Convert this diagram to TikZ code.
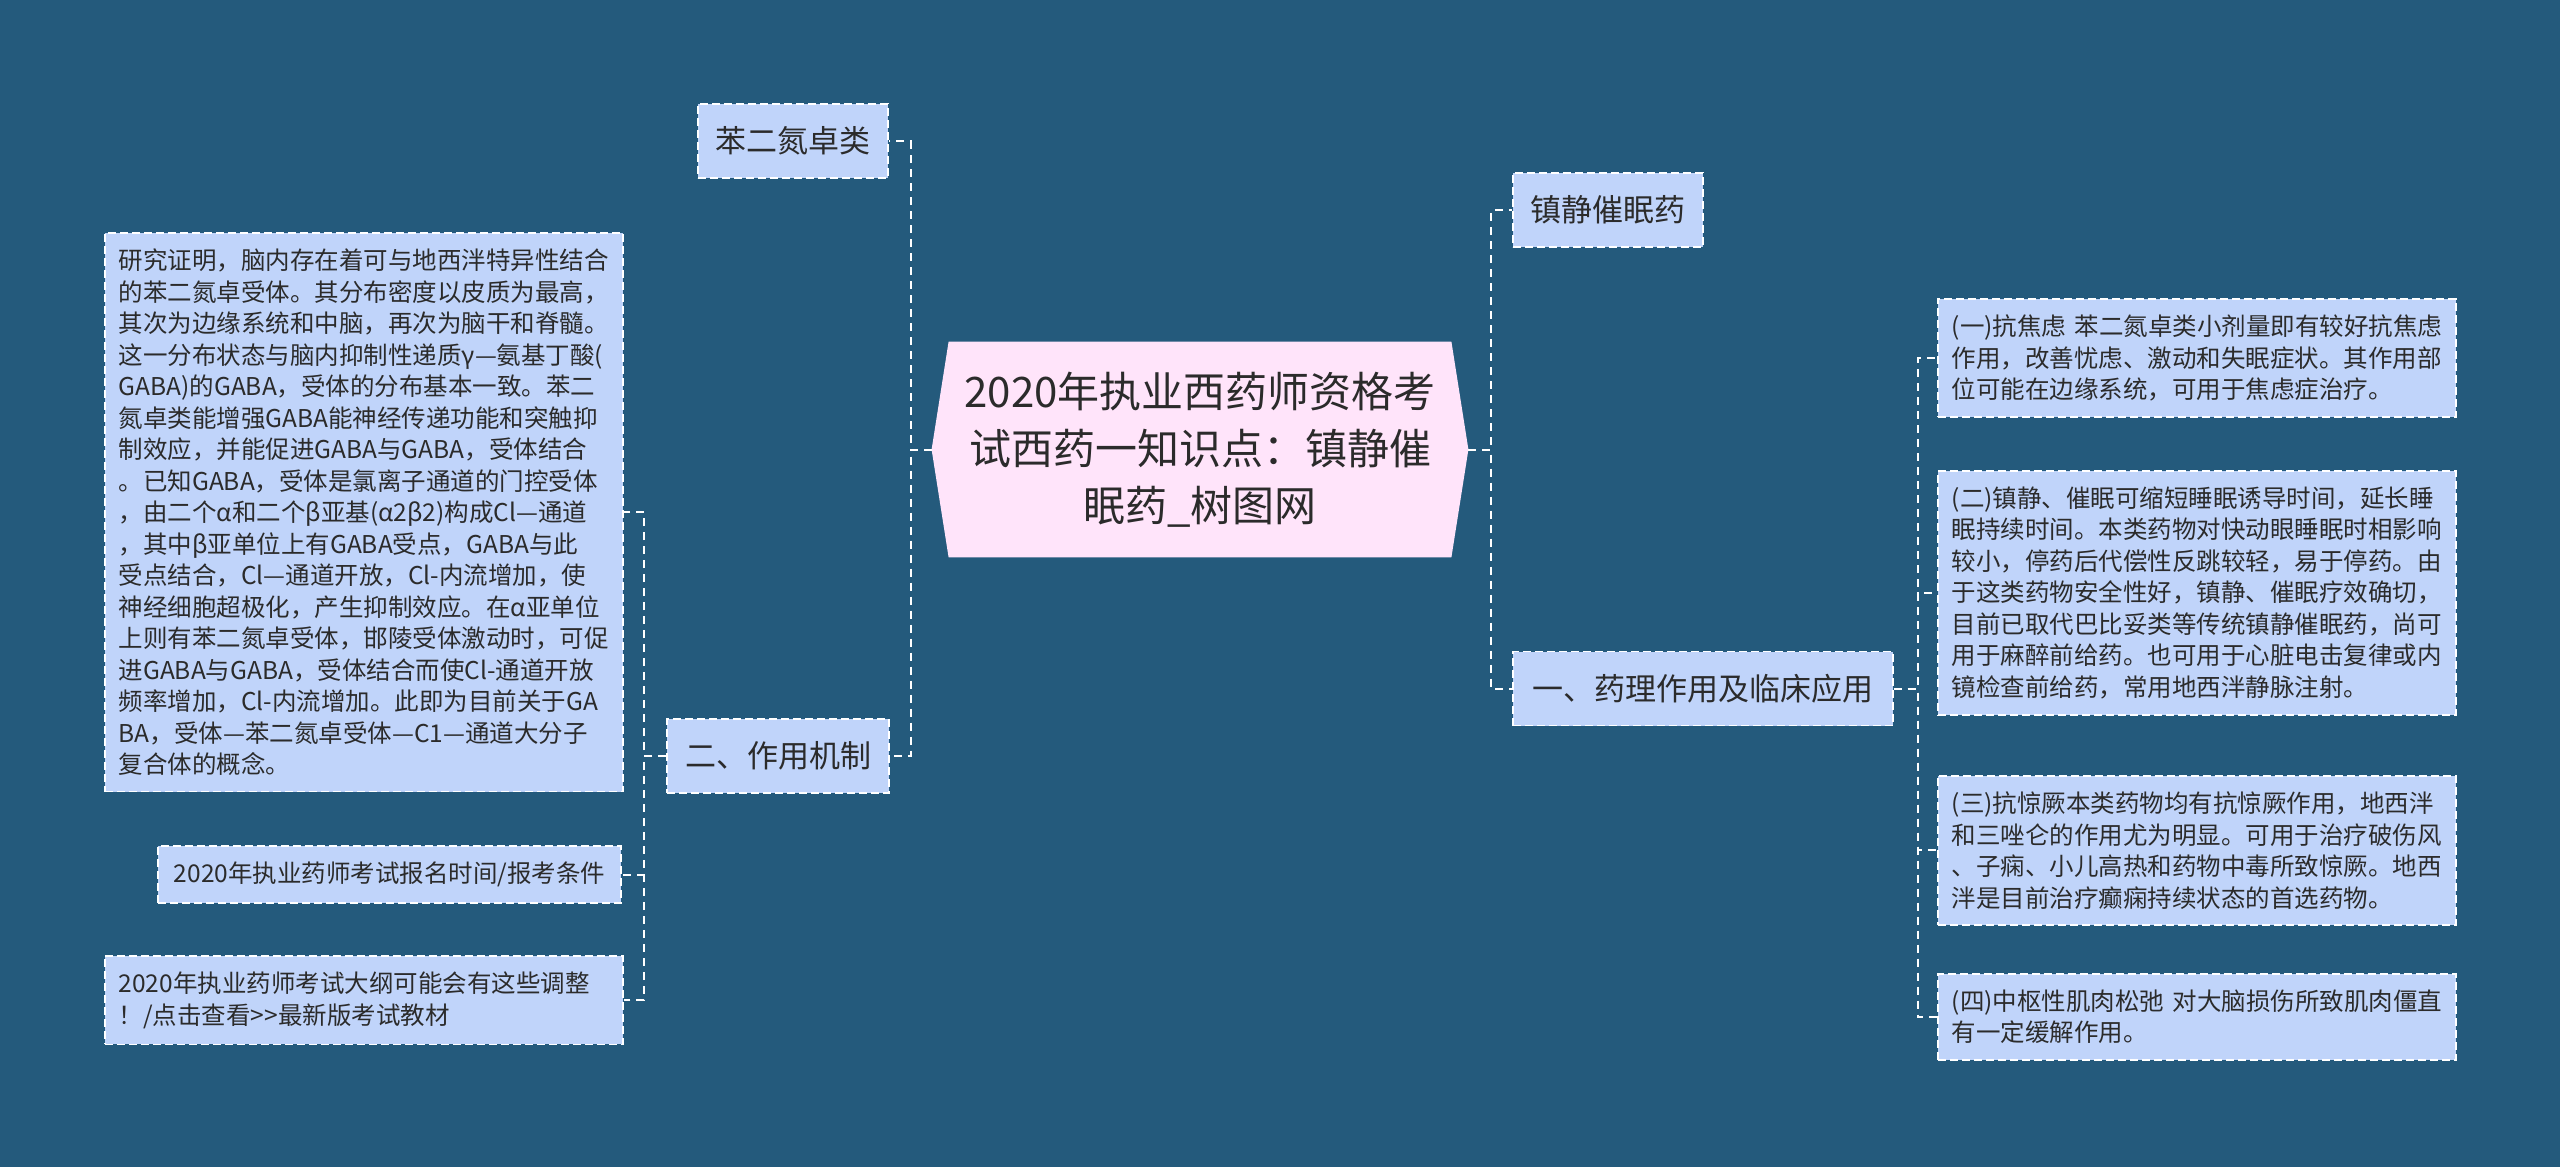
\documentclass[tikz,border=0pt]{standalone}
\usepackage{fontspec}
\newfontfamily\cjk{Noto Sans CJK SC}
\usetikzlibrary{backgrounds}
\definecolor{bgc}{HTML}{245A7C}
\definecolor{boxfill}{HTML}{C0D4FA}
\definecolor{rootfill}{HTML}{FFE4FA}
\definecolor{txt}{HTML}{2B2B2B}
\tikzset{
  conn/.style={draw=white, line width=1pt, dash pattern=on 4pt off 3pt},
  rootnode/.style={inner sep=0pt, minimum width=268pt, minimum height=107.5pt, align=center, text=txt,
    font=\cjk\fontsize{21}{28.5}\selectfont},
  midnode/.style={fill=boxfill, draw=white, line width=0.8pt, dash pattern=on 4pt off 2pt, inner sep=0pt,
    minimum height=37pt, text=txt, font=\cjk\fontsize{15.5}{19}\selectfont},
  textbox/.style={fill=boxfill, draw=white, line width=0.8pt, dash pattern=on 4pt off 2pt,
    inner xsep=7pt, inner ysep=8pt, text width=245pt, align=left, text=txt,
    font=\cjk\fontsize{12.25}{15.75}\selectfont},
  linebox/.style={fill=boxfill, draw=white, line width=0.8pt, dash pattern=on 4pt off 2pt,
    inner xsep=7.5pt, inner ysep=0pt, minimum height=28.5pt, text=txt,
    font=\cjk\fontsize{12.25}{15.75}\selectfont}
}
\begin{document}
\begin{tikzpicture}[x=0.5pt,y=-0.5pt]
\useasboundingbox (0,0) rectangle (2560,1167);

% root
\node[rootnode] (root) at (1200,449.5) {2020年执业西药师资格考\\试西药一知识点：镇静催\\眠药\_树图网};

% level 1 left
\node[midnode, minimum width=95pt] (bzd) at (793,141) {苯二氮卓类};
\node[midnode, minimum width=111pt] (mech) at (778,756) {二、作用机制};

% level 1 right
\node[midnode, minimum width=95pt] (sed) at (1608,210) {镇静催眠药};
\node[midnode, minimum width=190pt] (pharm) at (1703,688.5) {一、药理作用及临床应用};

% level 2 left
\node[textbox, anchor=north west] (big) at (104,232) {研究证明，脑内存在着可与地西泮特异性结合\\的苯二氮卓受体。其分布密度以皮质为最高，\\其次为边缘系统和中脑，再次为脑干和脊髓。\\这一分布状态与脑内抑制性递质γ—氨基丁酸(\\GABA)的GABA，受体的分布基本一致。苯二\\氮卓类能增强GABA能神经传递功能和突触抑\\制效应，并能促进GABA与GABA，受体结合\\。已知GABA，受体是氯离子通道的门控受体\\，由二个α和二个β亚基(α2β2)构成Cl—通道\\，其中β亚单位上有GABA受点，GABA与此\\受点结合，Cl—通道开放，Cl-内流增加，使\\神经细胞超极化，产生抑制效应。在α亚单位\\上则有苯二氮卓受体，邯陵受体激动时，可促\\进GABA与GABA，受体结合而使Cl-通道开放\\频率增加，Cl-内流增加。此即为目前关于GA\\BA，受体—苯二氮卓受体—C1—通道大分子\\复合体的概念。};
\node[linebox, anchor=east, minimum width=231.5pt] (reg) at (622,874.5) {2020年执业药师考试报名时间/报考条件};
\node[textbox, anchor=north west] (outl) at (104,955) {2020年执业药师考试大纲可能会有这些调整\\！/点击查看>>最新版考试教材};

% level 2 right
\node[textbox, anchor=north west] (r1) at (1937,298) {(一)抗焦虑~苯二氮卓类小剂量即有较好抗焦虑\\作用，改善忧虑、激动和失眠症状。其作用部\\位可能在边缘系统，可用于焦虑症治疗。};
\node[textbox, anchor=north west] (r2) at (1937,470) {(二)镇静、催眠可缩短睡眠诱导时间，延长睡\\眠持续时间。本类药物对快动眼睡眠时相影响\\较小，停药后代偿性反跳较轻，易于停药。由\\于这类药物安全性好，镇静、催眠疗效确切，\\目前已取代巴比妥类等传统镇静催眠药，尚可\\用于麻醉前给药。也可用于心脏电击复律或内\\镜检查前给药，常用地西泮静脉注射。};
\node[textbox, anchor=north west] (r3) at (1937,775) {(三)抗惊厥本类药物均有抗惊厥作用，地西泮\\和三唑仑的作用尤为明显。可用于治疗破伤风\\、子痫、小儿高热和药物中毒所致惊厥。地西\\泮是目前治疗癫痫持续状态的首选药物。};
\node[textbox, anchor=north west] (r4) at (1937,973) {(四)中枢性肌肉松弛~对大脑损伤所致肌肉僵直\\有一定缓解作用。};

% connectors
\draw[conn] (root.west) -- ++(-21,0) |- (bzd.east);
\draw[conn] (root.west) -- ++(-21,0) |- (mech.east);
\draw[conn] (root.east) -- ++(23,0) |- (sed.west);
\draw[conn] (root.east) -- ++(23,0) |- (pharm.west);
\draw[conn] (mech.west) -- ++(-22,0) |- (big.east);
\draw[conn] (mech.west) -- ++(-22,0) |- (reg.east);
\draw[conn] (mech.west) -- ++(-22,0) |- (outl.east);
\draw[conn] (pharm.east) -- ++(24,0) |- (r1.west);
\draw[conn] (pharm.east) -- ++(24,0) |- (r2.west);
\draw[conn] (pharm.east) -- ++(24,0) |- (r3.west);
\draw[conn] (pharm.east) -- ++(24,0) |- (r4.west);

\begin{scope}[on background layer]
\fill[bgc] (0,0) rectangle (2560,1167);
\fill[rootfill] (root.west) -- ([xshift=8.5pt]root.north west) -- ([xshift=-8.5pt]root.north east) -- (root.east) -- ([xshift=-8.5pt]root.south east) -- ([xshift=8.5pt]root.south west) -- cycle;
\end{scope}
\end{tikzpicture}
\end{document}
